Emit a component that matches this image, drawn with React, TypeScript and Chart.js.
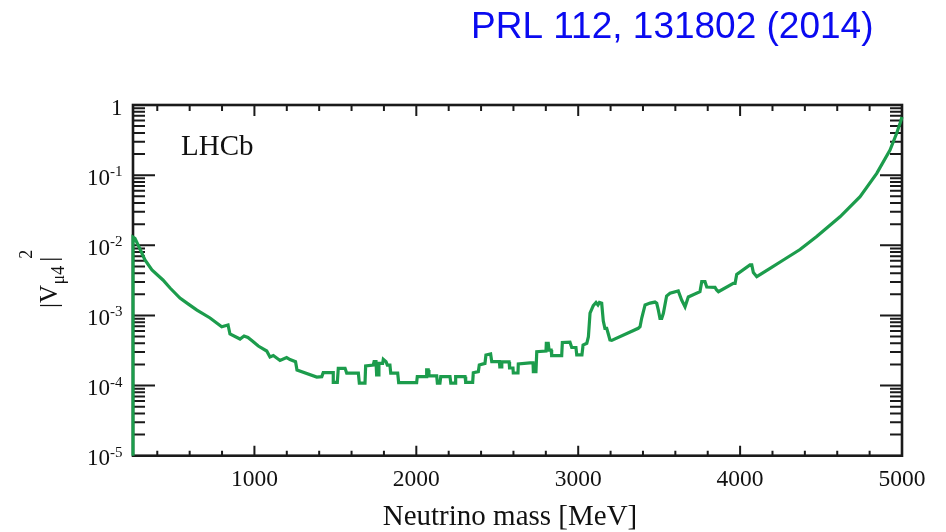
import React, { useEffect, useRef } from "react";
import { Chart, registerables } from "chart.js";

Chart.register(...registerables);

// ---- data ----
const massMeV = [
  250, 250, 262, 293, 324, 367, 435, 479, 540, 590, 645, 726, 798, 837, 849, 911, 936, 960, 993, 1024,
  1076, 1096, 1117, 1158, 1199, 1220, 1254, 1263, 1385, 1416, 1425, 1487, 1487, 1512, 1518, 1560, 1570,
  1642, 1648, 1683, 1687, 1734, 1739, 1751, 1755, 1765, 1769, 1792, 1796, 1813, 1821, 1837, 1842, 1885,
  1891, 2002, 2006, 2060, 2064, 2074, 2078, 2126, 2130, 2146, 2151, 2208, 2213, 2239, 2243, 2301, 2305,
  2348, 2352, 2383, 2389, 2424, 2430, 2459, 2466, 2513, 2516, 2524, 2528, 2573, 2576, 2597, 2599, 2628,
  2630, 2702, 2721, 2723, 2739, 2744, 2801, 2803, 2815, 2820, 2833, 2836, 2898, 2902, 2949, 2960, 2986,
  2991, 3023, 3030, 3053, 3063, 3073, 3093, 3110, 3122, 3131, 3145, 3155, 3165, 3176, 3186, 3196, 3207,
  3371, 3382, 3392, 3413, 3444, 3474, 3485, 3495, 3505, 3516, 3526, 3546, 3567, 3618, 3639, 3660, 3680,
  3752, 3763, 3783, 3794, 3845, 3855, 3866, 3958, 3969, 3979, 4061, 4072, 4082, 4103, 4185, 4267, 4370,
  4473, 4617, 4741, 4844, 4926, 4967, 4988, 5000,
];

const mixingSq = [
  1e-5, 0.0131, 0.0126, 0.00885, 0.00617, 0.00444, 0.0032, 0.00246, 0.00177, 0.00146, 0.00119, 0.00092,
  0.00069, 0.00073, 0.000543, 0.000461, 0.000509, 0.000484, 0.000422, 0.000366, 0.000311, 0.000255,
  0.000268, 0.000228, 0.000251, 0.000235, 0.000219, 0.000167, 0.000132, 0.000134, 0.000153, 0.000153,
  0.000111, 0.000111, 0.000176, 0.000176, 0.00015, 0.00015, 0.000108, 0.000108, 0.00019, 0.000196,
  0.000219, 0.000219, 0.000142, 0.000142, 0.000207, 0.000207, 0.000237, 0.000219, 0.000196, 0.000196,
  0.00015, 0.00015, 0.00011, 0.00011, 0.000134, 0.000134, 0.000167, 0.000167, 0.000137, 0.000137,
  0.000108, 0.000108, 0.000134, 0.000134, 0.000108, 0.000108, 0.000134, 0.000134, 0.000111, 0.000111,
  0.000152, 0.000158, 0.000196, 0.000207, 0.000273, 0.000282, 0.000219, 0.000219, 0.000184, 0.000184,
  0.000217, 0.000217, 0.000178, 0.000178, 0.000151, 0.000151, 0.000203, 0.00021, 0.00021, 0.000158,
  0.000158, 0.000304, 0.000311, 0.0004, 0.0004, 0.000321, 0.000321, 0.000268, 0.000268, 0.000411,
  0.000416, 0.000349, 0.000349, 0.000273, 0.000273, 0.000379, 0.0004, 0.000498, 0.00108, 0.00138,
  0.00153, 0.00141, 0.00153, 0.00149, 0.00083, 0.000655, 0.000655, 0.000543, 0.000446, 0.00044,
  0.000655, 0.00069, 0.00091, 0.00141, 0.0015, 0.00155, 0.00149, 0.00119, 0.00091, 0.00091, 0.00107,
  0.00189, 0.00207, 0.00223, 0.00166, 0.00133, 0.00183, 0.00218, 0.00303, 0.00303, 0.00254, 0.00251,
  0.0023, 0.00218, 0.00287, 0.00287, 0.00383, 0.00524, 0.00524, 0.00409, 0.00357, 0.00468, 0.00617,
  0.0087, 0.0133, 0.0255, 0.0493, 0.106, 0.228, 0.395, 0.548, 0.674,
];

const xMajorTicks = [1000, 2000, 3000, 4000, 5000];
const xTickLabels = ["1000", "2000", "3000", "4000", "5000"];
const yDecades = [1, 1e-1, 1e-2, 1e-3, 1e-4, 1e-5];
const yTickBase = ["1", "10", "10", "10", "10", "10"];
const yTickExp = ["", "-1", "-2", "-3", "-4", "-5"];
const titleText = "PRL 112, 131802 (2014)";
const experimentLabel = "LHCb";
const xAxisTitle = "Neutrino mass [MeV]";

const SERIF = "'Liberation Serif', 'Times New Roman', serif";
const SANS = "'Liberation Sans', Arial, sans-serif";
const GREEN = "#1c9c4c";
const INK = "#1a1a1a";

const framePlugin = {
  id: "framePlugin",
  beforeDatasetsDraw(chart: any) {
    const { ctx, chartArea: a, scales } = chart;
    const xs = scales.x;
    const ys = scales.y;
    ctx.save();
    ctx.strokeStyle = INK;
    ctx.lineWidth = 2;
    ctx.lineCap = "butt";
    ctx.beginPath();
    // x minor ticks every 200 MeV, major every 1000
    for (let m = 400; m < 5000; m += 200) {
      const px = xs.getPixelForValue(m);
      const major = m % 1000 === 0;
      ctx.moveTo(px, a.bottom);
      ctx.lineTo(px, a.bottom - (major ? 10 : 5));
      ctx.moveTo(px, a.top);
      ctx.lineTo(px, a.top + (major ? 11 : 6));
    }
    // y ticks (decades long, 2..9 short) on both sides
    for (let e = -5; e <= 0; e++) {
      const d = Math.pow(10, e);
      const py = ys.getPixelForValue(d);
      if (e > -5 && e < 0) {
        ctx.moveTo(a.left, py);
        ctx.lineTo(a.left + 22, py);
        ctx.moveTo(a.right, py);
        ctx.lineTo(a.right - 22, py);
      }
      if (e < 0) {
        for (let k = 2; k <= 9; k++) {
          const pm = ys.getPixelForValue(k * d);
          ctx.moveTo(a.left, pm);
          ctx.lineTo(a.left + 12, pm);
          ctx.moveTo(a.right, pm);
          ctx.lineTo(a.right - 12, pm);
        }
      }
    }
    ctx.stroke();
    ctx.lineWidth = 2.6;
    ctx.strokeRect(a.left, a.top, a.right - a.left, a.bottom - a.top);
    ctx.restore();
  },
  afterDraw(chart: any) {
    const { ctx, scales } = chart;
    const xs = scales.x;
    const ys = scales.y;
    ctx.save();
    ctx.fillStyle = "#111";
    ctx.textBaseline = "alphabetic";

    // x tick labels
    ctx.font = `23.5px ${SERIF}`;
    ctx.textAlign = "center";
    xMajorTicks.forEach((v, i) => {
      ctx.fillText(xTickLabels[i], xs.getPixelForValue(v), 485.5);
    });

    // y tick labels with superscript exponents
    const rightEdge = 122.5;
    yDecades.forEach((v, i) => {
      const py = ys.getPixelForValue(v);
      ctx.textAlign = "left";
      ctx.font = `15px ${SERIF}`;
      const we = yTickExp[i] ? ctx.measureText(yTickExp[i]).width : 0;
      ctx.font = `23px ${SERIF}`;
      const wb = ctx.measureText(yTickBase[i]).width;
      const x0 = rightEdge - we - wb;
      const base = py + 9.5;
      ctx.fillText(yTickBase[i], x0, base);
      if (yTickExp[i]) {
        ctx.font = `15px ${SERIF}`;
        ctx.fillText(yTickExp[i], x0 + wb, base - 8.5);
      }
    });

    // x axis title
    ctx.font = `29px ${SERIF}`;
    ctx.textAlign = "center";
    ctx.fillText(xAxisTitle, 510, 525);

    // LHCb label
    ctx.font = `29px ${SERIF}`;
    ctx.textAlign = "left";
    ctx.fillText(experimentLabel, 181, 155);

    // y axis title |V_{mu4}|^2 rotated
    ctx.save();
    ctx.translate(57, 308);
    ctx.rotate(-Math.PI / 2);
    ctx.textAlign = "left";
    ctx.font = `25px ${SERIF}`;
    ctx.fillText("|V", 0, 0);
    const w1 = ctx.measureText("|V").width;
    ctx.font = `18px ${SERIF}`;
    ctx.fillText("\u03bc4", w1 + 0.5, 6.5);
    const w2 = ctx.measureText("\u03bc4").width;
    ctx.font = `25px ${SERIF}`;
    const barX = w1 + 0.5 + w2 + 4;
    ctx.fillText("|", barX, 0);
    const w3 = ctx.measureText("|").width;
    ctx.font = `18px ${SERIF}`;
    ctx.fillText("2", barX + w3 - 2, -25);
    ctx.restore();

    // citation title
    ctx.fillStyle = "rgb(10,10,240)";
    ctx.font = `37px ${SANS}`;
    ctx.textAlign = "left";
    ctx.fillText(titleText, 471, 37.5);
    ctx.restore();
  },
};

export default function App() {
  const canvasRef = useRef<HTMLCanvasElement | null>(null);

  useEffect(() => {
    document.body.style.margin = "0";
    const canvas = canvasRef.current;
    if (!canvas) return;
    const points = massMeV.map((m, i) => ({ x: m, y: mixingSq[i] }));
    const chart = new Chart(canvas, {
      type: "line",
      data: {
        datasets: [
          {
            data: points,
            borderColor: GREEN,
            backgroundColor: GREEN,
            borderWidth: 3.2,
            pointRadius: 0,
            tension: 0,
            fill: false,
            clip: 6,
            borderJoinStyle: "miter",
          } as any,
        ],
      },
      options: {
        responsive: false,
        animation: false,
        devicePixelRatio: 1,
        layout: { padding: { left: 133, top: 105, right: 44, bottom: 76.3 } },
        plugins: {
          legend: { display: false },
          tooltip: { enabled: false },
          title: { display: false },
        },
        scales: {
          x: { type: "linear", min: 250, max: 5000, display: false },
          y: { type: "logarithmic", min: 1e-5, max: 1, display: false },
        },
      },
      plugins: [framePlugin],
    });
    return () => chart.destroy();
  }, []);

  return (
    <div style={{ position: "absolute", left: 0, top: 0, width: 946, height: 532, background: "#fff" }}>
      <canvas ref={canvasRef} width={946} height={532} style={{ display: "block" }} />
    </div>
  );
}
